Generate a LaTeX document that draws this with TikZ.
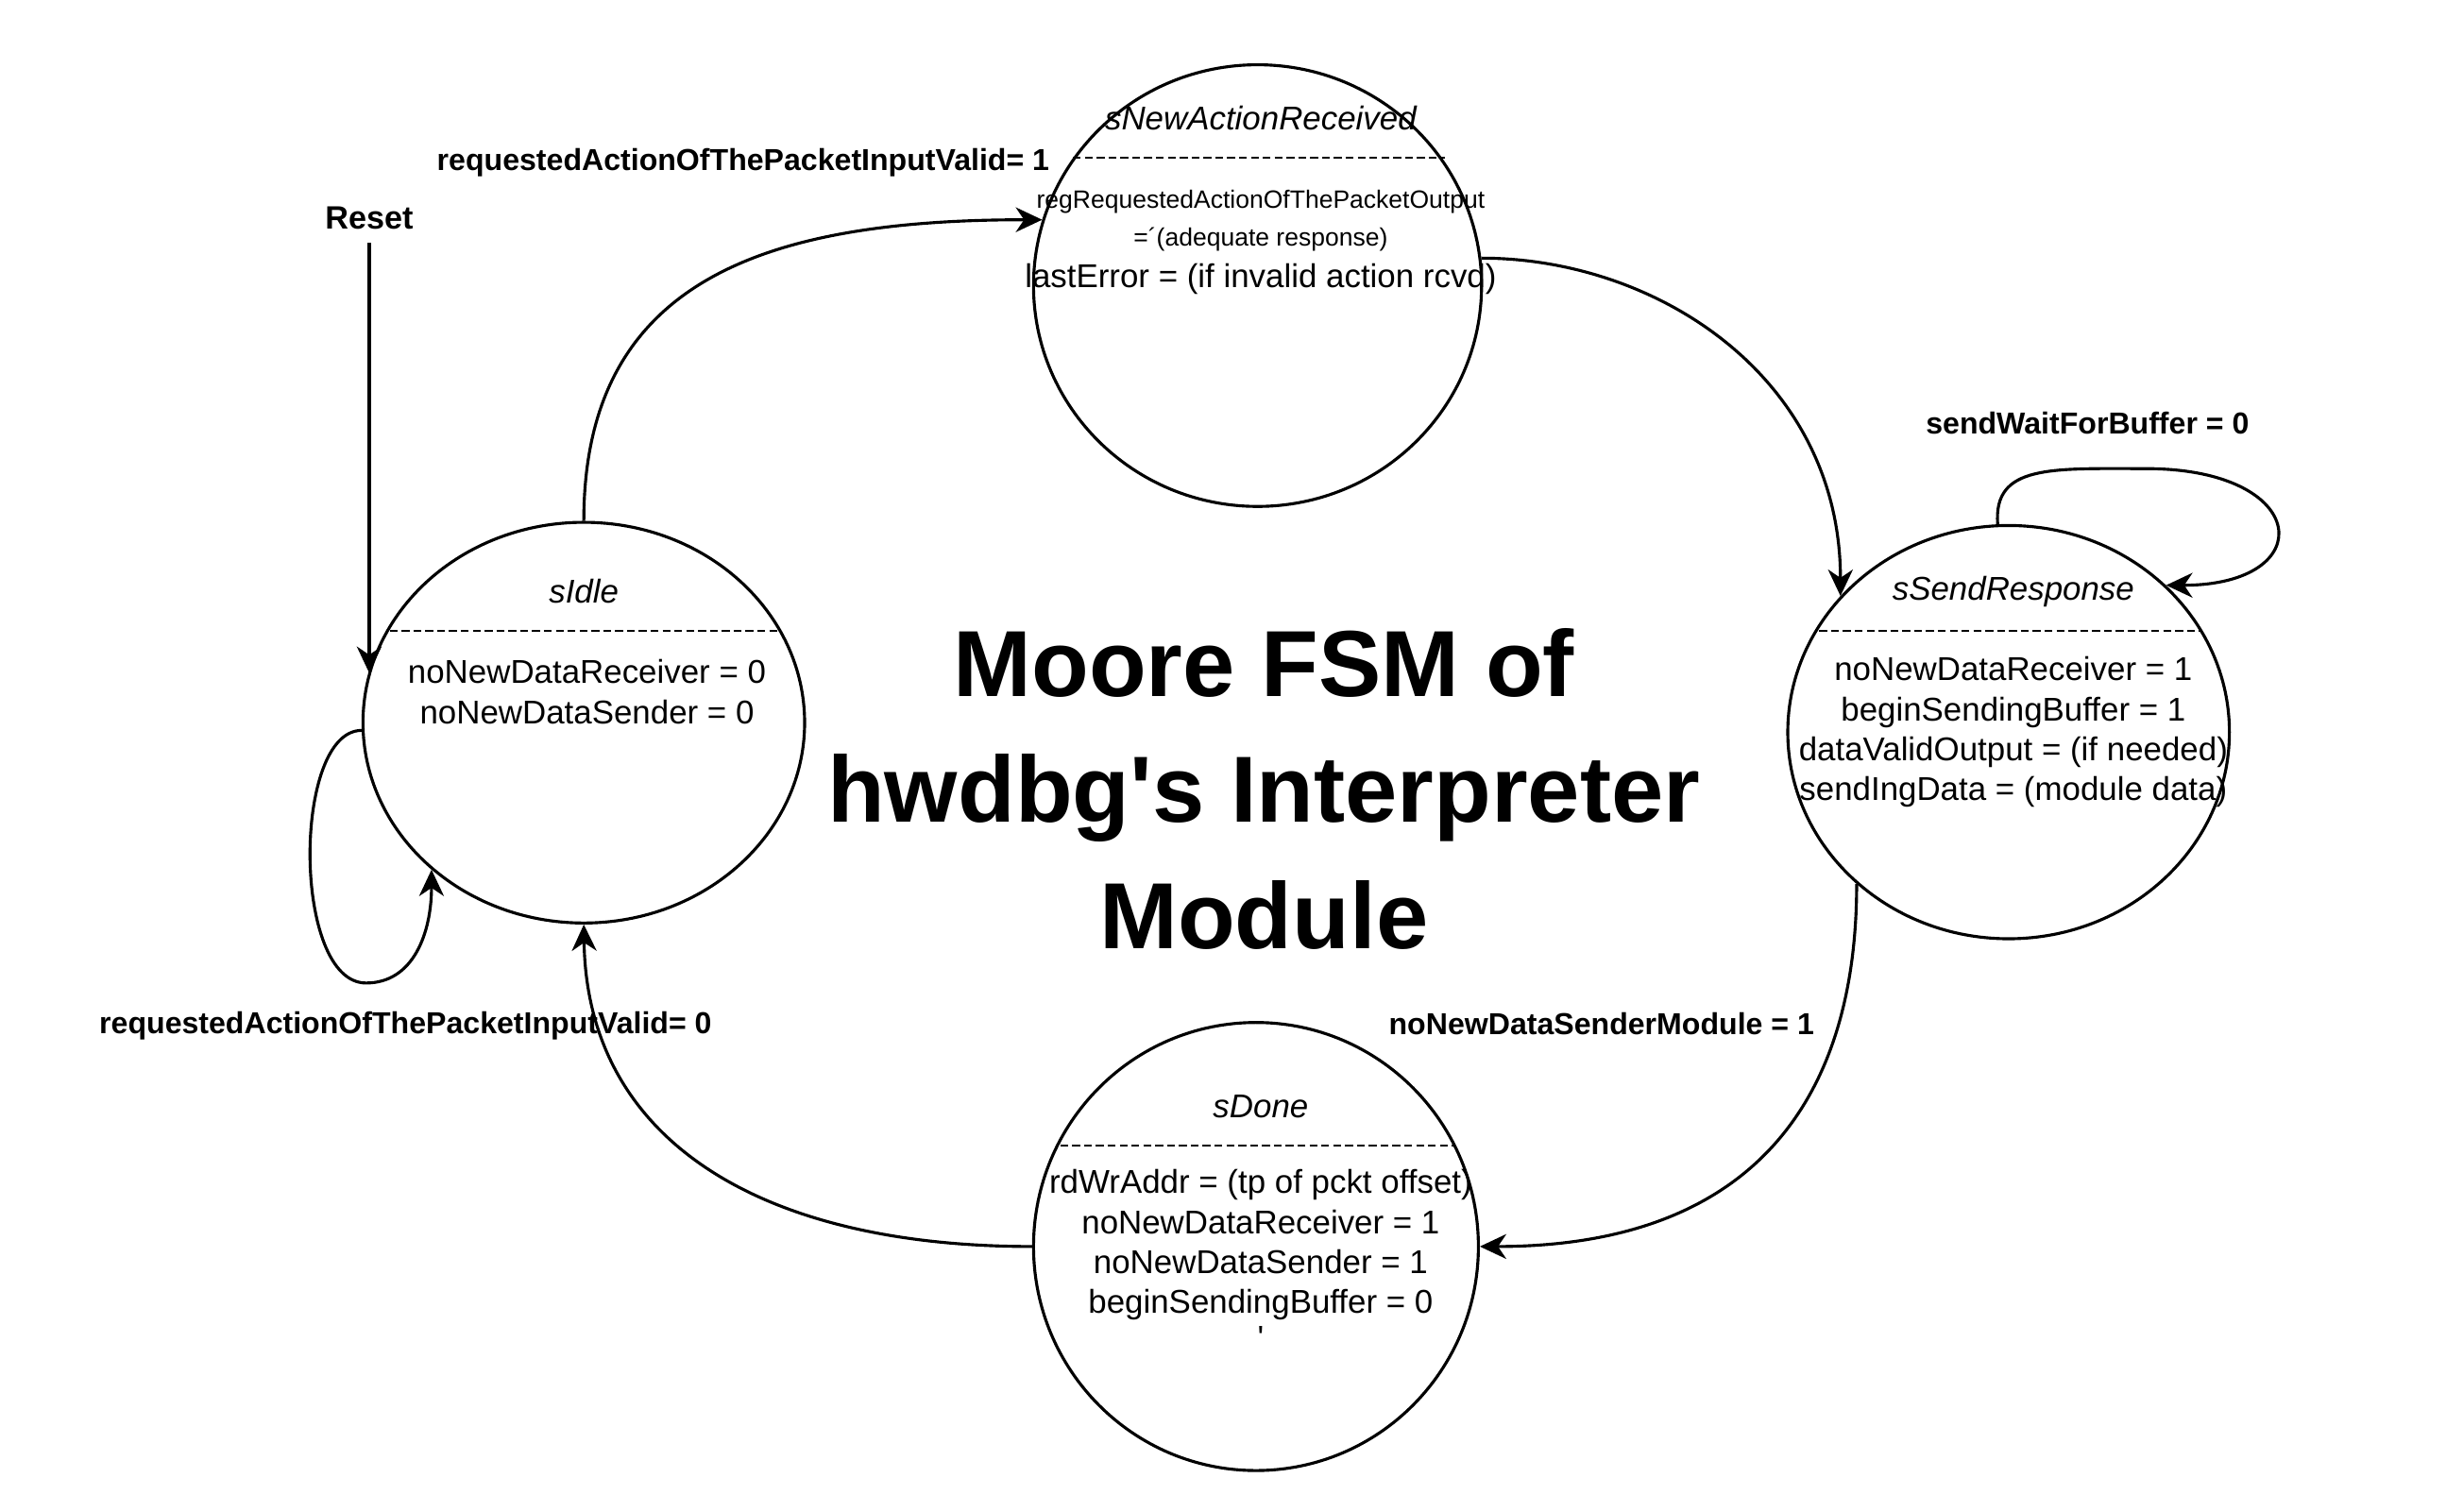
\documentclass[tikz,border=0pt]{standalone}
\usepackage{fontspec}
\setmainfont{Liberation Sans}
\usetikzlibrary{shapes.geometric,arrows.meta}
\begin{document}
\begin{tikzpicture}[x=0.016826cm, y=-0.016826cm,
  state/.style={draw, ellipse, line width=0.9pt, inner sep=0pt},
  edge/.style={draw, line width=0.9pt, -{Stealth[length=8pt,width=7.5pt,inset=2.5pt]}},
  sepline/.style={line width=0.6pt, dash pattern=on 2.4pt off 1.2pt},
  sttitle/.style={font=\fontsize{10}{12}\selectfont\itshape, inner sep=0pt},
  body/.style={font=\fontsize{10}{12.1}\selectfont, align=center, inner sep=0pt},
  small/.style={font=\fontsize{7.6}{9}\selectfont, inner sep=0pt},
  lbl/.style={font=\fontsize{9.2}{11}\selectfont\bfseries, inner sep=0pt},
]
\useasboundingbox (0,0) rectangle (1561,958);

% states
\node[state, minimum width=4.711cm, minimum height=4.274cm] (sIdle) at (370,458) {};
\node[state, minimum width=4.779cm, minimum height=4.711cm] (sNew) at (797,181) {};
\node[state, minimum width=4.711cm, minimum height=4.408cm] (sSend) at (1273,464) {};
\node[state, minimum width=4.745cm, minimum height=4.779cm] (sDone) at (796,790) {};

% sIdle contents
\node[sttitle] (idleT) at (370,375) {sIdle};
\draw[sepline] (247,400) -- (493,400);
\node[body] (idleB) at (372,438.5) {noNewDataReceiver = 0\\noNewDataSender = 0};

% sNewActionReceived contents
\node[sttitle] (newT) at (799,75) {sNewActionReceived};
\draw[sepline] (680,100) -- (916,100);
\node[small] (newB1) at (799,128) {regRequestedActionOfThePacketOutput};
\node[small] (newB2) at (799,152) {=´(adequate response)};
\node[body] (newB3) at (799,177) {lastError = (if invalid action rcvd)};

% sSendResponse contents
\node[sttitle] (sendT) at (1276,375) {sSendResponse};
\draw[sepline] (1153,400) -- (1395,400);
\node[body] (sendB) at (1276,464) {noNewDataReceiver = 1\\beginSendingBuffer = 1\\dataValidOutput = (if needed)\\sendIngData = (module data)};

% sDone contents
\node[sttitle] (doneT) at (799,701) {sDone};
\draw[sepline] (672,726) -- (922,726);
\node[body] (doneB) at (799,789) {rdWrAddr = (tp of pckt offset)\\noNewDataReceiver = 1\\noNewDataSender = 1\\beginSendingBuffer = 0};
\node[body] (doneQ) at (799,848) {\textquotesingle};

% title
\node[font=\fontsize{28.5}{38.3}\selectfont\bfseries, align=center, inner sep=0pt] (title) at (801,500) {Moore FSM of\\hwdbg\textquotesingle s Interpreter\\Module};

% labels
\node[font=\fontsize{9.8}{11}\selectfont\bfseries, inner sep=0pt] (reset) at (234,138) {Reset};
\node[lbl] (l1) at (471,103) {requestedActionOfThePacketInputValid= 1};
\node[lbl] (l0) at (257,650) {requestedActionOfThePacketInputValid= 0};
\node[lbl] (lw) at (1323,268) {sendWaitForBuffer = 0};
\node[lbl] (ls) at (1015,649) {noNewDataSenderModule = 1};

% connectors
\draw[edge, shorten <=4pt] (reset.south) -- (reset.south |- sIdle.167);
\draw[edge] (sIdle.182) .. controls +(-44,0) and +(-47,0) .. (232,623)
            .. controls +(30,0) and +(0,40) .. (sIdle.224);
\draw[edge] (sIdle.90) .. controls +(0,-153) and +(-175,0) .. (sNew.163);
\draw[edge] (sNew.7) .. controls +(112,0) and +(0,-138) .. (sSend.141);
\draw[edge] (sSend.93) .. controls +(-3,-38) and +(-60,0) .. (1360,297)
            .. controls +(105,0) and +(98,0) .. (sSend.43);
\draw[edge] (sSend.225) .. controls +(0,140) and +(170,0) .. (sDone.0);
\draw[edge] (sDone.180) .. controls +(-175,0) and +(2,135) .. (sIdle.270);
\end{tikzpicture}
\end{document}
